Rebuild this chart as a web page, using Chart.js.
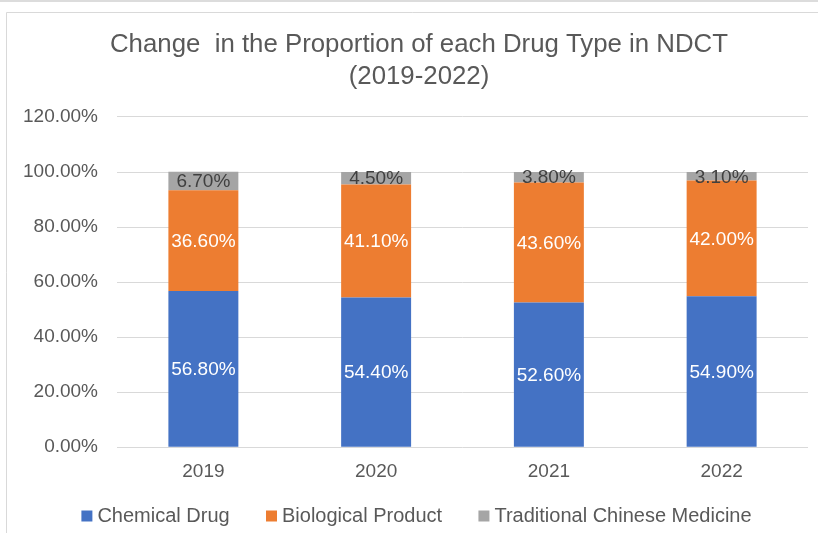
<!DOCTYPE html>
<html>
<head>
<meta charset="utf-8">
<script src="https://cdn.jsdelivr.net/npm/chart.js@4/dist/chart.umd.min.js"></script>
<style>
  html, body { margin: 0; padding: 0; background: #ffffff; }
  #wrap { position: relative; width: 818px; height: 533px; }
</style>
</head>
<body>
<div id="wrap"><canvas id="c" width="818" height="533"></canvas></div>
<script>
const categories = ['2019', '2020', '2021', '2022'];
const seriesNames = ['Chemical Drug', 'Biological Product', 'Traditional Chinese Medicine'];
const chemicalDrug = [56.8, 54.4, 52.6, 54.9];
const biologicalProduct = [36.6, 41.1, 43.6, 42.0];
const traditionalChineseMedicine = [6.7, 4.5, 3.8, 3.1];
const yTicks = [0, 20, 40, 60, 80, 100, 120];
const titleLines = ['Change  in the Proportion of each Drug Type in NDCT', '(2019-2022)'];

const FONT = "'Liberation Sans', Arial, sans-serif";
const TEXT = '#595959';
const GRID = '#d9d9d9';

const frame = {
  id: 'frame',
  beforeDraw(chart) {
    const ctx = chart.ctx;
    ctx.save();
    ctx.fillStyle = '#ffffff';
    ctx.fillRect(0, 0, chart.width, chart.height);
    ctx.fillStyle = '#dcdcdc';
    ctx.fillRect(0, 0, chart.width, 2);
    ctx.strokeStyle = '#d9d9d9';
    ctx.lineWidth = 1;
    ctx.beginPath();
    ctx.moveTo(6.5, chart.height);
    ctx.lineTo(6.5, 12.5);
    ctx.lineTo(chart.width, 12.5);
    ctx.stroke();
    ctx.restore();
  }
};

const labelColors = ['#ffffff', '#ffffff', '#404040'];
const barLabels = {
  id: 'barLabels',
  afterDatasetsDraw(chart) {
    const ctx = chart.ctx;
    ctx.save();
    ctx.font = '19px ' + FONT;
    ctx.textAlign = 'center';
    ctx.textBaseline = 'middle';
    chart.data.datasets.forEach((ds, i) => {
      const meta = chart.getDatasetMeta(i);
      meta.data.forEach((bar, j) => {
        const v = ds.data[j];
        ctx.fillStyle = labelColors[i];
        ctx.fillText(v.toFixed(2) + '%', bar.x, (bar.y + bar.base) / 2 + 1);
      });
    });
    ctx.restore();
  }
};

const pad = '      ';
new Chart(document.getElementById('c'), {
  type: 'bar',
  data: {
    labels: categories,
    datasets: [
      { label: seriesNames[0] + pad, data: chemicalDrug, backgroundColor: '#4472C4' },
      { label: seriesNames[1] + pad, data: biologicalProduct, backgroundColor: '#ED7D31' },
      { label: seriesNames[2], data: traditionalChineseMedicine, backgroundColor: '#A5A5A5' }
    ]
  },
  options: {
    responsive: false,
    animation: false,
    devicePixelRatio: 1,
    categoryPercentage: 0.405,
    barPercentage: 1,
    layout: { padding: { left: 20, right: 0, top: 12, bottom: -3 } },
    plugins: {
      title: {
        display: true,
        text: titleLines,
        color: TEXT,
        font: { family: FONT, size: 25.8, weight: 'normal', lineHeight: 1.24 },
        padding: { top: 17, bottom: 24 }
      },
      legend: {
        position: 'bottom',
        labels: {
          color: TEXT,
          font: { family: FONT, size: 20 },
          usePointStyle: true,
          pointStyle: 'rect',
          boxWidth: 1,
          boxHeight: 11,
          padding: 8
        }
      },
      tooltip: { enabled: false }
    },
    scales: {
      x: {
        stacked: true,
        grid: { display: false, drawTicks: false },
        border: { display: false },
        afterFit(scale) { scale.height += 2; },
        ticks: { color: TEXT, font: { family: FONT, size: 19 }, padding: 13 }
      },
      y: {
        stacked: true,
        min: 0,
        max: 120,
        afterBuildTicks(scale) { scale.ticks = yTicks.map(v => ({ value: v })); },
        afterFit(scale) { scale.width = 97; },
        grid: { color: GRID, lineWidth: 1, drawTicks: false },
        border: { display: false },
        ticks: {
          color: TEXT,
          font: { family: FONT, size: 19 },
          padding: 19,
          callback: v => v.toFixed(2) + '%'
        }
      },
      yRight: {
        position: 'right',
        display: true,
        grid: { display: false, drawTicks: false },
        border: { display: false },
        ticks: { display: false },
        afterFit(scale) { scale.width = 10; }
      }
    }
  },
  plugins: [frame, barLabels]
});
</script>
</body>
</html>
